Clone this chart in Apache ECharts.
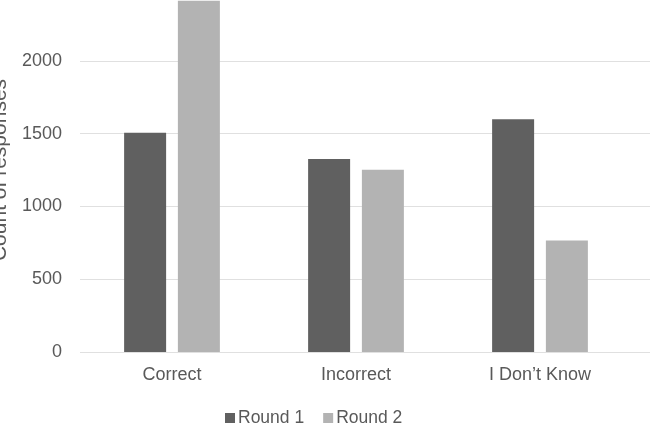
<!DOCTYPE html>
<html>
<head>
<meta charset="utf-8">
<script src="https://cdn.jsdelivr.net/npm/echarts@6/dist/echarts.min.js"></script>
<style>html,body{margin:0;padding:0;background:#fff;}#c{width:650px;height:441px;}</style>
</head>
<body>
<div id="c"></div>
<script>
const categories = ['Correct', 'Incorrect', 'I Don\u2019t Know'];
const round1 = [1505, 1326, 1599];
const round2 = [2412, 1251, 765];
const seriesNames = ['Round 1', 'Round 2'];
const yTicks = [0, 500, 1000, 1500, 2000, 2500];

const chart = echarts.init(document.getElementById('c'), null, {renderer: 'canvas'});
const font = 'Liberation Sans, Arial, sans-serif';
const yMin = yTicks[0], yMax = yTicks[yTicks.length - 1], yStep = yTicks[1] - yTicks[0];
chart.setOption({
  animation: false,
  backgroundColor: '#fff',
  grid: [
    {left: 80, right: 18, top: -12, bottom: 89, outerBoundsMode: 'none'},
    {left: 80, right: 0, top: -12, bottom: 89, outerBoundsMode: 'none'}
  ],
  legend: {
    data: seriesNames,
    left: 220, top: 404,
    itemWidth: 10, itemHeight: 10, itemGap: 19,
    icon: 'rect',
    textStyle: {fontFamily: font, fontSize: 17.5, color: '#595959', padding: [0,0,0,-2]}
  },
  xAxis: [
    {
      type: 'category', data: categories, gridIndex: 0,
      axisLine: {show: false},
      axisTick: {show: false},
      axisLabel: {fontFamily: font, fontSize: 18, color: '#595959', margin: 14}
    },
    {type: 'value', gridIndex: 1, show: false, min: 0, max: 1}
  ],
  yAxis: [
    {
      type: 'value', gridIndex: 0, min: yMin, max: yMax, interval: yStep,
      name: 'Count of responses', nameLocation: 'middle', nameGap: 64,
      nameTextStyle: {fontFamily: font, fontSize: 21, color: '#595959'},
      axisLine: {show: false}, axisTick: {show: false},
      axisLabel: {fontFamily: font, fontSize: 18, color: '#595959', margin: 18,
        formatter: v => String(v)},
      splitLine: {show: false}
    },
    {
      type: 'value', gridIndex: 1, min: yMin, max: yMax, interval: yStep,
      axisLine: {show: false}, axisTick: {show: false}, axisLabel: {show: false},
      splitLine: {show: true, lineStyle: {color: '#e0e0e0', width: 1}}
    }
  ],
  series: [
    {name: seriesNames[0], type: 'bar', data: round1, barWidth: 42, barGap: '28%',
     xAxisIndex: 0, yAxisIndex: 0, z: 3, itemStyle: {color: '#606060'}},
    {name: seriesNames[1], type: 'bar', data: round2, barWidth: 42,
     xAxisIndex: 0, yAxisIndex: 0, z: 3, itemStyle: {color: '#b3b3b3'}}
  ]
});
</script>
</body>
</html>
